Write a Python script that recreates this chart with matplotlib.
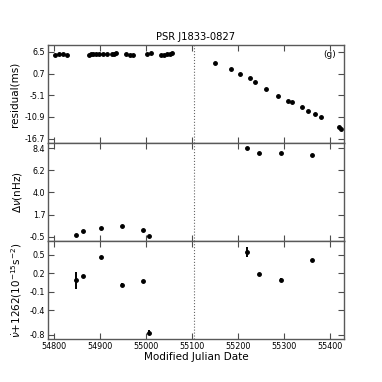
import numpy as np
import matplotlib
matplotlib.use('Agg')
import matplotlib.pyplot as plt

# timing residuals (ms)
res_mjd = [54802, 54811, 54820, 54830,
           54876, 54881, 54886, 54891, 54898, 54907, 54915, 54927, 54930, 54936,
           54957, 54966, 54972, 55003, 55012,
           55032, 55039, 55047, 55052, 55056,
           55151, 55184, 55204, 55226, 55237, 55261, 55287, 55308, 55317,
           55339, 55352, 55367, 55380, 55419, 55423]
res_val = [5.6, 6.0, 6.0, 5.6,
           5.6, 5.8, 6.0, 5.8, 6.0, 5.8, 5.8, 5.8, 6.0, 6.2,
           5.8, 5.6, 5.6, 5.8, 6.3,
           5.6, 5.6, 5.8, 6.0, 6.2,
           3.56, 1.95, 0.45, -0.54, -1.7, -3.5, -5.28, -6.7, -6.97,
           -8.3, -9.2, -10.0, -10.9, -13.7, -14.1]

# frequency and frequency derivative
nu_mjd = [54848, 54864, 54903, 54948, 54994, 55008, 55219, 55245, 55293, 55360]
dnu = [-0.33, 0.03, 0.33, 0.56, 0.16, -0.46, 8.43, 7.9, 7.9, 7.7]
nudot = [0.085, 0.156, 0.46, 0.015, 0.07, -0.767, 0.55, 0.19, 0.097, 0.41]
nudot_err = [0.137, 0.02, 0.02, 0.02, 0.02, 0.044, 0.08, 0.02, 0.02, 0.02]

glitch_mjd = 55105

fig, axes = plt.subplots(3, 1, sharex=True, figsize=(3.82, 3.82), dpi=100)
fig.subplots_adjust(left=0.126, right=0.9, top=0.882, bottom=0.112, hspace=0)

ax1, ax2, ax3 = axes
ax1.plot(res_mjd, res_val, 'k.', ms=5)
ax2.plot(nu_mjd, dnu, 'k.', ms=5)
ax3.errorbar(nu_mjd, nudot, yerr=nudot_err, fmt='k.', ms=5, elinewidth=1.4, capsize=0)

ax1.set_ylim(-17.9, 8.3)
ax1.set_yticks(np.linspace(-16.7, 6.5, 5))
ax2.set_ylim(-0.95, 8.9)
ax2.set_yticks(np.linspace(-0.5, 8.4, 5))
ax3.set_ylim(-0.875, 0.725)
ax3.set_yticks([-0.8, -0.4, -0.1, 0.2, 0.5])
ax3.set_xlim(54788, 55430)
ax3.set_xticks(np.arange(54800, 55401, 100))

fmt = matplotlib.ticker.FormatStrFormatter('%.1f')
for ax in axes:
    ax.yaxis.set_major_formatter(fmt)
    ax.axvline(glitch_mjd, color='0.4', ls=':', lw=0.8)
    ax.tick_params(direction='in', top=True, right=True, labelsize=5.8,
                   length=4, width=0.8, color='0.3', pad=2)
    for s in ax.spines.values():
        s.set_color('0.35')
        s.set_linewidth(1.0)

ax1.set_ylabel('residual(ms)', fontsize=7.5)
ax2.set_ylabel(r'$\Delta\nu$(nHz)', fontsize=7.5)
ax3.set_ylabel(r'$\dot{\nu}$+1262($10^{-15}$s$^{-2}$)', fontsize=7.5)
ax3.set_xlabel('Modified Julian Date', fontsize=7.5, labelpad=1)
ax1.set_title('PSR J1833-0827', fontsize=7.2, pad=4)
ax1.text(0.975, 0.9, '(g)', transform=ax1.transAxes, ha='right', va='center', fontsize=6.5)

fig.savefig('out.png', dpi=100)
